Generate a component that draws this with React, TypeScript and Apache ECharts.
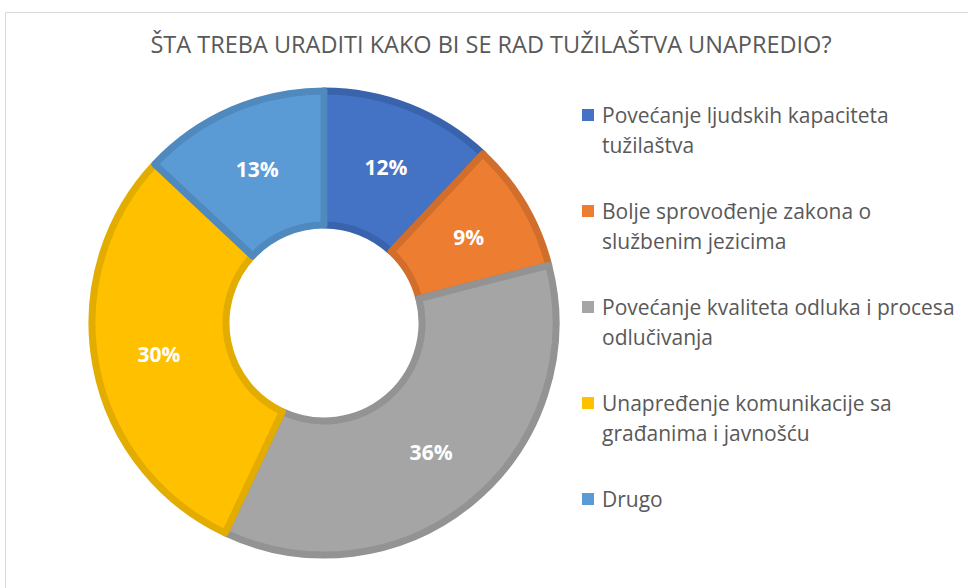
import React, { useEffect, useRef } from "react";
import * as echarts from "echarts";

const titleText = "ŠTA TREBA URADITI KAKO BI SE RAD TUŽILAŠTVA UNAPREDIO?";
const categories = [
  "Povećanje ljudskih kapaciteta tužilaštva",
  "Bolje sprovođenje zakona o službenim jezicima",
  "Povećanje kvaliteta odluka i procesa odlučivanja",
  "Unapređenje komunikacije sa građanima i javnošću",
  "Drugo",
];
const legendLines = [
  ["Povećanje ljudskih kapaciteta", "tužilaštva"],
  ["Bolje sprovođenje zakona o", "službenim jezicima"],
  ["Povećanje kvaliteta odluka i procesa", "odlučivanja"],
  ["Unapređenje komunikacije sa", "građanima i javnošću"],
  ["Drugo"],
];
const values = [12, 9, 36, 30, 13];
const fillColors = ["#4472C4", "#ED7D31", "#A5A5A5", "#FFC000", "#5B9BD5"];
const borderColors = ["#3A63AE", "#D26E2B", "#939393", "#E3AC00", "#4F89BD"];

export default function App() {
  const ref = useRef<HTMLDivElement>(null);
  useEffect(() => {
    if (!ref.current) return;
    const chart = echarts.init(ref.current, undefined, { renderer: "svg" });
    const font = "'Open Sans', 'Noto Sans', sans-serif";
    chart.setOption({
      animation: false,
      backgroundColor: "#ffffff",
      title: {
        text: titleText,
        left: 491,
        top: 32,
        textAlign: "center",
        padding: 0,
        textStyle: {
          fontFamily: font,
          fontSize: 23.5,
          fontWeight: "normal",
          color: "#595959",
        },
      },
      graphic: [
        {
          type: "rect",
          shape: { x: 5.5, y: 12.5, width: 1000, height: 700 },
          style: { fill: "none", stroke: "#d9d9d9", lineWidth: 1 },
          silent: true,
          z: -10,
        },
      ],
      legend: {
        orient: "vertical",
        left: 582,
        top: 70,
        padding: 0,
        itemWidth: 12,
        itemHeight: 12,
        itemGap: 6,
        icon: "rect",
        selectedMode: false,
        formatter: (name: string) => {
          const lines = legendLines[categories.indexOf(name)];
          return lines.length > 1 ? "\n" + lines.join("\n") : "\n" + lines[0] + "\n";
        },
        textStyle: {
          fontFamily: font,
          fontSize: 21,
          color: "#595959",
          lineHeight: 30,
          padding: [0, 0, 0, 3],
        },
        data: categories.map((c, i) => ({
          name: c,
          itemStyle: { color: fillColors[i], borderWidth: 0 },
        })),
      },
      series: [
        {
          type: "pie",
          center: [324, 323],
          radius: [98, 232],
          startAngle: 90,
          clockwise: true,
          avoidLabelOverlap: false,
          label: {
            show: true,
            position: "inside",
            formatter: "{c}%",
            color: "#ffffff",
            fontFamily: font,
            fontSize: 21,
            fontWeight: "bold",
          },
          labelLine: { show: false },
          emphasis: { disabled: true },
          data: categories.map((c, i) => ({
            name: c,
            value: values[i],
            itemStyle: {
              color: fillColors[i],
              borderColor: borderColors[i],
              borderWidth: 7,
            },
          })),
        },
      ],
    });
    return () => chart.dispose();
  }, []);
  return (
    <div
      ref={ref}
      style={{ position: "fixed", left: 0, top: 0, width: 968, height: 588 }}
    />
  );
}
